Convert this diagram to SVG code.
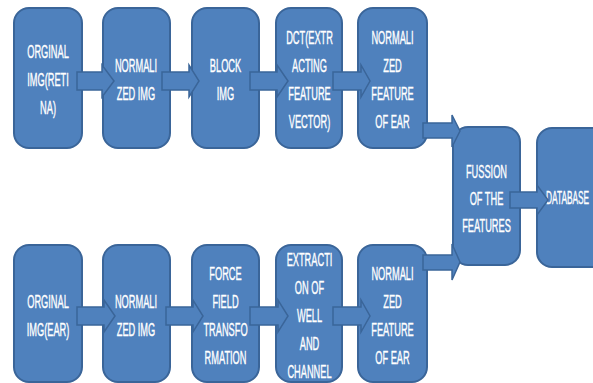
<svg xmlns="http://www.w3.org/2000/svg" width="593" height="383" viewBox="0 0 593 383">
<defs>
<style>
.box{fill:#4F81BD;stroke:#3A6599;stroke-width:2}
.arr{fill:#4F81BD;stroke:#3A6599;stroke-width:1.5;stroke-linejoin:miter}
.t{fill:#FFFFFF;stroke:#FFFFFF;stroke-width:0.4;font-family:"Liberation Sans",Arial,sans-serif;font-size:18.5px;text-anchor:middle}
.ts{fill:#FFFFFF;stroke:#FFFFFF;stroke-width:0.4;font-family:"Liberation Sans",Arial,sans-serif;font-size:18.5px;text-anchor:start}
</style>
</defs>
<rect width="593" height="383" fill="#FFFFFF"/>
<g id="n1"><rect class="box" x="14" y="8" width="68" height="140" rx="15"/>
<text class="t" transform="translate(48,0) scale(0.5,1)"><tspan x="0" y="58">ORGINAL</tspan><tspan x="0" y="86">IMG(RETI</tspan><tspan x="0" y="114">NA)</tspan></text></g>
<g id="n2"><rect class="box" x="103" y="8" width="67" height="140" rx="15"/>
<text class="t" transform="translate(136,0) scale(0.5,1)"><tspan x="0" y="72">NORMALI</tspan><tspan x="0" y="100">ZED IMG</tspan></text></g>
<g id="n3"><rect class="box" x="192" y="8" width="67" height="140" rx="15"/>
<text class="t" transform="translate(225.5,0) scale(0.5,1)"><tspan x="0" y="72">BLOCK</tspan><tspan x="0" y="100">IMG</tspan></text></g>
<g id="n4"><rect class="box" x="276" y="8" width="66" height="140" rx="15"/>
<text class="t" transform="translate(309.5,0) scale(0.5,1)"><tspan x="0" y="44">DCT(EXTR</tspan><tspan x="0" y="72">ACTING</tspan><tspan x="0" y="100">FEATURE</tspan><tspan x="0" y="128">VECTOR)</tspan></text></g>
<g id="n5"><rect class="box" x="358" y="8" width="69" height="140" rx="15"/>
<text class="t" transform="translate(392.5,0) scale(0.5,1)"><tspan x="0" y="44">NORMALI</tspan><tspan x="0" y="72">ZED</tspan><tspan x="0" y="100">FEATURE</tspan><tspan x="0" y="128">OF EAR</tspan></text></g>
<g id="m1"><rect class="box" x="14" y="245" width="68" height="137" rx="15"/>
<text class="t" transform="translate(48,0) scale(0.5,1)"><tspan x="0" y="308.5">ORGINAL</tspan><tspan x="0" y="336.5">IMG(EAR)</tspan></text></g>
<g id="m2"><rect class="box" x="103" y="245" width="67" height="137" rx="15"/>
<text class="t" transform="translate(136,0) scale(0.5,1)"><tspan x="0" y="308.5">NORMALI</tspan><tspan x="0" y="336.5">ZED IMG</tspan></text></g>
<g id="m3"><rect class="box" x="192" y="245" width="67" height="137" rx="15"/>
<text class="t" transform="translate(225.5,0) scale(0.5,1)"><tspan x="0" y="280.5">FORCE</tspan><tspan x="0" y="308.5">FIELD</tspan><tspan x="0" y="336.5">TRANSFO</tspan><tspan x="0" y="364.5">RMATION</tspan></text></g>
<g id="m4"><rect class="box" x="276" y="245" width="66" height="137" rx="15"/>
<text class="t" transform="translate(309.5,0) scale(0.5,1)"><tspan x="0" y="266.5">EXTRACTI</tspan><tspan x="0" y="294.5">ON OF</tspan><tspan x="0" y="322.5">WELL</tspan><tspan x="0" y="350.5">AND</tspan><tspan x="0" y="378.5">CHANNEL</tspan></text></g>
<g id="m5"><rect class="box" x="358" y="245" width="69" height="137" rx="15"/>
<text class="t" transform="translate(392.5,0) scale(0.5,1)"><tspan x="0" y="280.5">NORMALI</tspan><tspan x="0" y="308.5">ZED</tspan><tspan x="0" y="336.5">FEATURE</tspan><tspan x="0" y="364.5">OF EAR</tspan></text></g>
<g id="fusion"><rect class="box" x="453" y="127" width="67" height="138" rx="15"/>
<text class="t" transform="translate(486.5,0) scale(0.5,1)"><tspan x="0" y="178">FUSSION</tspan><tspan x="0" y="205">OF THE</tspan><tspan x="0" y="232">FEATURES</tspan></text></g>
<g id="database"><rect class="box" x="537" y="128" width="70" height="139" rx="15"/>
<text class="ts" transform="translate(546,0) scale(0.45,1)"><tspan x="0" y="204">DATABASE</tspan></text></g>
<g id="connectors">
<polygon class="arr" points="77,72 102,72 102,65 114,81 102,97 102,90 77,90"/>
<polygon class="arr" points="162,72 189,72 189,65 199,81 189,97 189,90 162,90"/>
<polygon class="arr" points="250,72 277,72 277,65 288,81 277,97 277,90 250,90"/>
<polygon class="arr" points="333,72 361,72 361,65 370,81 361,97 361,90 333,90"/>
<polygon class="arr" points="77,307 104,307 104,300 115,316 104,332 104,325 77,325"/>
<polygon class="arr" points="166,307 193,307 193,300 203,316 193,332 193,325 166,325"/>
<polygon class="arr" points="250,307 278,307 278,300 288,316 278,332 278,325 250,325"/>
<polygon class="arr" points="333,307 361,307 361,300 370,316 361,332 361,325 333,325"/>
<polygon class="arr" points="423,123 452,123 452,115 460,131 452,147 452,138 423,138"/>
<polygon class="arr" points="423,255 452,255 452,244 460,262 452,280 452,270 423,270"/>
<polygon class="arr" points="510,192 537,192 537,185 548,200 537,215 537,208 510,208"/>
</g>
</svg>
